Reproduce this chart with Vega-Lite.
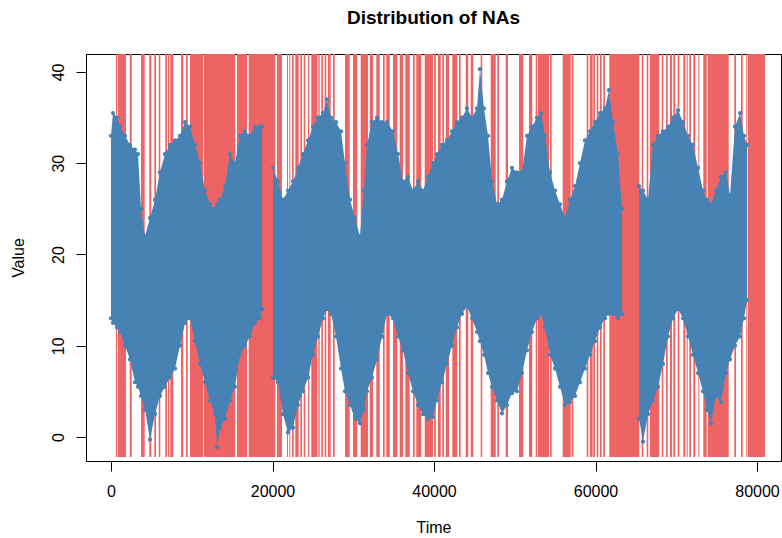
{
  "$schema": "https://vega.github.io/schema/vega-lite/v6.json",
  "width": 695,
  "height": 407,
  "autosize": {"type": "none"},
  "padding": {"left": 86, "top": 54, "right": 1, "bottom": 77},
  "background": "white",
  "title": {"text": "Distribution of NAs", "font": "Liberation Sans", "fontSize": 19, "fontWeight": "bold", "color": "black", "anchor": "middle", "frame": "group", "offset": 11, "baseline": "alphabetic"},
  "config": {
    "view": {"stroke": "black", "strokeWidth": 1},
    "axis": {"labelFont": "Liberation Sans", "titleFont": "Liberation Sans", "labelFontSize": 16, "titleFontSize": 16, "titleFontWeight": "normal", "labelColor": "black", "titleColor": "black", "tickColor": "black", "tickSize": 10, "domain": false, "grid": false, "labelFlush": false, "labelOverlap": false}
  },
  "datasets": {
    "nas": [
      {"t0": 619, "t1": 743}, {"t0": 830, "t1": 1858}, {"t0": 2316, "t1": 2563}, {"t0": 3715, "t1": 4173}, {"t0": 4743, "t1": 4991}, {"t0": 5362, "t1": 5573}, {"t0": 5907, "t1": 6105}, {"t0": 6724, "t1": 6935}, {"t0": 7059, "t1": 7220}, {"t0": 7344, "t1": 7715}, {"t0": 8669, "t1": 8954}, {"t0": 9288, "t1": 9498}, {"t0": 9783, "t1": 11393}, {"t0": 11480, "t1": 15393}, {"t0": 15604, "t1": 16842}, {"t0": 17053, "t1": 20347}, {"t0": 20557, "t1": 21176}, {"t0": 21796, "t1": 21920}, {"t0": 22081, "t1": 22205}, {"t0": 22415, "t1": 22626}, {"t0": 22824, "t1": 23245}, {"t0": 23443, "t1": 23654}, {"t0": 23864, "t1": 24062}, {"t0": 24396, "t1": 24557}, {"t0": 24805, "t1": 25560}, {"t0": 25680, "t1": 25846},
      {"t0": 26044, "t1": 26254}, {"t0": 26465, "t1": 26663}, {"t0": 26873, "t1": 27208}, {"t0": 27492, "t1": 27703}, {"t0": 28979, "t1": 29561}, {"t0": 29969, "t1": 30502}, {"t0": 30923, "t1": 31827}, {"t0": 32037, "t1": 32446}, {"t0": 32855, "t1": 33276}, {"t0": 33684, "t1": 33895}, {"t0": 34093, "t1": 34514}, {"t0": 34923, "t1": 35455}, {"t0": 35753, "t1": 36161}, {"t0": 36446, "t1": 36991}, {"t0": 37400, "t1": 37610}, {"t0": 37808, "t1": 38427}, {"t0": 38849, "t1": 39876},
      {"t0": 40000, "t1": 40211}, {"t0": 40496, "t1": 40830}, {"t0": 41030, "t1": 41240}, {"t0": 41450, "t1": 41859}, {"t0": 42267, "t1": 42887}, {"t0": 43097, "t1": 43307}, {"t0": 43926, "t1": 44249}, {"t0": 44545, "t1": 44867}, {"t0": 45783, "t1": 45981}, {"t0": 47022, "t1": 47641}, {"t0": 47839, "t1": 48050}, {"t0": 48879, "t1": 49164}, {"t0": 50527, "t1": 51059}, {"t0": 51765, "t1": 52174}, {"t0": 52595, "t1": 52793}, {"t0": 52880, "t1": 54240},
      {"t0": 54366, "t1": 54576}, {"t0": 55939, "t1": 56930}, {"t0": 57053, "t1": 57252}, {"t0": 58911, "t1": 59109}, {"t0": 59320, "t1": 59654}, {"t0": 59729, "t1": 59940}, {"t0": 60150, "t1": 60348}, {"t0": 60558, "t1": 60769}, {"t0": 60967, "t1": 61177}, {"t0": 61709, "t1": 65424}, {"t0": 65721, "t1": 65919}, {"t0": 66341, "t1": 66539}, {"t0": 66750, "t1": 67902}, {"t0": 68199, "t1": 68398},
      {"t0": 68731, "t1": 68942}, {"t0": 69226, "t1": 69474}, {"t0": 69634, "t1": 69882}, {"t0": 70178, "t1": 70377}, {"t0": 70873, "t1": 71121}, {"t0": 71294, "t1": 71418}, {"t0": 71616, "t1": 71827}, {"t0": 72112, "t1": 72360}, {"t0": 72731, "t1": 72855}, {"t0": 73350, "t1": 73771}, {"t0": 73895, "t1": 76496}, {"t0": 77188, "t1": 77398}, {"t0": 78019, "t1": 78229}, {"t0": 78638, "t1": 78724}, {"t0": 78848, "t1": 80990}
    ],
    "band": [
      {"seg": 1, "t": 0, "hi": 33, "lo": 13}, {"seg": 1, "t": 248, "hi": 35.5, "lo": 12.5}, {"seg": 1, "t": 743, "hi": 35, "lo": 12}, {"seg": 1, "t": 1115, "hi": 34, "lo": 11.5}, {"seg": 1, "t": 1734, "hi": 33, "lo": 10}, {"seg": 1, "t": 2353, "hi": 32, "lo": 8.5}, {"seg": 1, "t": 2972, "hi": 31.5, "lo": 6}, {"seg": 1, "t": 3344, "hi": 31, "lo": 5.5}, {"seg": 1, "t": 3715, "hi": 25, "lo": 4.5}, {"seg": 1, "t": 4211, "hi": 22, "lo": 3}, {"seg": 1, "t": 4830, "hi": 24, "lo": -0.3}, {"seg": 1, "t": 5449, "hi": 26, "lo": 2.5}, {"seg": 1, "t": 6068, "hi": 29, "lo": 4.5}, {"seg": 1, "t": 6687, "hi": 31, "lo": 5.5}, {"seg": 1, "t": 7307, "hi": 32, "lo": 6.5}, {"seg": 1, "t": 7926, "hi": 32.5, "lo": 7.5}, {"seg": 1, "t": 8545, "hi": 33, "lo": 10}, {"seg": 1, "t": 9164, "hi": 34.5, "lo": 12.5}, {"seg": 1, "t": 9783, "hi": 34, "lo": 13}, {"seg": 1, "t": 10403, "hi": 32, "lo": 10.5}, {"seg": 1, "t": 11022, "hi": 30, "lo": 8}, {"seg": 1, "t": 11641, "hi": 27, "lo": 6}, {"seg": 1, "t": 12260, "hi": 25.5, "lo": 4}, {"seg": 1, "t": 12879, "hi": 25, "lo": 2.5}, {"seg": 1, "t": 13127, "hi": 25.5, "lo": -1.1}, {"seg": 1, "t": 13499, "hi": 26, "lo": 1}, {"seg": 1, "t": 14118, "hi": 27.5, "lo": 2}, {"seg": 1, "t": 14737, "hi": 31, "lo": 4}, {"seg": 1, "t": 15356, "hi": 30, "lo": 5.5}, {"seg": 1, "t": 15975, "hi": 33, "lo": 9}, {"seg": 1, "t": 16595, "hi": 33.5, "lo": 10}, {"seg": 1, "t": 17214, "hi": 33, "lo": 11}, {"seg": 1, "t": 17833, "hi": 34, "lo": 12.5}, {"seg": 1, "t": 18452, "hi": 34, "lo": 13}, {"seg": 1, "t": 18700, "hi": 34, "lo": 14},
      {"seg": 2, "t": 20062, "hi": 29.5, "lo": 6.5}, {"seg": 2, "t": 20681, "hi": 28, "lo": 6}, {"seg": 2, "t": 21300, "hi": 26, "lo": 2.5}, {"seg": 2, "t": 21920, "hi": 27, "lo": 0.5}, {"seg": 2, "t": 22539, "hi": 28, "lo": 1}, {"seg": 2, "t": 23158, "hi": 29.5, "lo": 3.5}, {"seg": 2, "t": 23777, "hi": 31, "lo": 5}, {"seg": 2, "t": 24396, "hi": 32.5, "lo": 6.5}, {"seg": 2, "t": 25016, "hi": 34, "lo": 9}, {"seg": 2, "t": 25635, "hi": 35, "lo": 11}, {"seg": 2, "t": 26254, "hi": 35.5, "lo": 13}, {"seg": 2, "t": 26749, "hi": 37, "lo": 14}, {"seg": 2, "t": 27245, "hi": 35, "lo": 13.5}, {"seg": 2, "t": 27864, "hi": 34.5, "lo": 11}, {"seg": 2, "t": 28483, "hi": 33.5, "lo": 7.5}, {"seg": 2, "t": 28979, "hi": 30, "lo": 5}, {"seg": 2, "t": 29598, "hi": 26, "lo": 3.5}, {"seg": 2, "t": 30217, "hi": 24, "lo": 2}, {"seg": 2, "t": 30836, "hi": 22, "lo": 1.5}, {"seg": 2, "t": 31332, "hi": 27, "lo": 3}, {"seg": 2, "t": 31703, "hi": 32, "lo": 5}, {"seg": 2, "t": 32322, "hi": 34.5, "lo": 6.5}, {"seg": 2, "t": 32941, "hi": 35, "lo": 8.5}, {"seg": 2, "t": 33561, "hi": 34.5, "lo": 11}, {"seg": 2, "t": 34180, "hi": 34.5, "lo": 13.5}, {"seg": 2, "t": 34923, "hi": 33.5, "lo": 13}, {"seg": 2, "t": 35542, "hi": 31, "lo": 11}, {"seg": 2, "t": 36161, "hi": 28, "lo": 9.5}, {"seg": 2, "t": 36780, "hi": 28.5, "lo": 7}, {"seg": 2, "t": 37400, "hi": 27, "lo": 5}, {"seg": 2, "t": 38019, "hi": 28, "lo": 3.5}, {"seg": 2, "t": 38638, "hi": 27, "lo": 2.5}, {"seg": 2, "t": 39257, "hi": 28.5, "lo": 2}, {"seg": 2, "t": 39876, "hi": 30, "lo": 2.2}, {"seg": 2, "t": 40372, "hi": 31, "lo": 4}, {"seg": 2, "t": 40991, "hi": 32, "lo": 6}, {"seg": 2, "t": 41610, "hi": 32.5, "lo": 8}, {"seg": 2, "t": 42229, "hi": 33.5, "lo": 10}, {"seg": 2, "t": 42849, "hi": 34.5, "lo": 12}, {"seg": 2, "t": 43468, "hi": 35, "lo": 13.5}, {"seg": 2, "t": 44087, "hi": 36, "lo": 14.3}, {"seg": 2, "t": 44706, "hi": 35, "lo": 13}, {"seg": 2, "t": 45325, "hi": 36, "lo": 11.5}, {"seg": 2, "t": 45697, "hi": 40.3, "lo": 10.5}, {"seg": 2, "t": 46192, "hi": 36, "lo": 9}, {"seg": 2, "t": 46688, "hi": 33, "lo": 7}, {"seg": 2, "t": 47183, "hi": 28, "lo": 5.5}, {"seg": 2, "t": 47802, "hi": 25.5, "lo": 4}, {"seg": 2, "t": 48421, "hi": 26, "lo": 2.6}, {"seg": 2, "t": 49041, "hi": 28, "lo": 3.5}, {"seg": 2, "t": 49660, "hi": 29.5, "lo": 4.8}, {"seg": 2, "t": 50279, "hi": 29, "lo": 5}, {"seg": 2, "t": 50898, "hi": 29, "lo": 7}, {"seg": 2, "t": 51517, "hi": 33, "lo": 9.5}, {"seg": 2, "t": 52137, "hi": 34, "lo": 11.5}, {"seg": 2, "t": 52756, "hi": 35, "lo": 13}, {"seg": 2, "t": 53251, "hi": 35.5, "lo": 13.5}, {"seg": 2, "t": 53747, "hi": 33, "lo": 12}, {"seg": 2, "t": 54366, "hi": 29, "lo": 9}, {"seg": 2, "t": 54985, "hi": 27, "lo": 7.5}, {"seg": 2, "t": 55604, "hi": 25.5, "lo": 5.5}, {"seg": 2, "t": 56223, "hi": 24, "lo": 3.5}, {"seg": 2, "t": 56843, "hi": 26, "lo": 3.8}, {"seg": 2, "t": 57462, "hi": 27.5, "lo": 4.5}, {"seg": 2, "t": 58081, "hi": 30, "lo": 6}, {"seg": 2, "t": 58700, "hi": 32.5, "lo": 7.5}, {"seg": 2, "t": 59319, "hi": 33.5, "lo": 9}, {"seg": 2, "t": 59939, "hi": 34.5, "lo": 10.5}, {"seg": 2, "t": 60558, "hi": 35.5, "lo": 12}, {"seg": 2, "t": 61177, "hi": 36, "lo": 13}, {"seg": 2, "t": 61672, "hi": 38, "lo": 13.5}, {"seg": 2, "t": 62168, "hi": 34.5, "lo": 13.5}, {"seg": 2, "t": 62787, "hi": 31, "lo": 13}, {"seg": 2, "t": 63282, "hi": 25, "lo": 13.5},
      {"seg": 3, "t": 65388, "hi": 27.5, "lo": 2}, {"seg": 3, "t": 65883, "hi": 27, "lo": -0.5}, {"seg": 3, "t": 66502, "hi": 26, "lo": 2.5}, {"seg": 3, "t": 67121, "hi": 32, "lo": 4}, {"seg": 3, "t": 67740, "hi": 33, "lo": 5.5}, {"seg": 3, "t": 68360, "hi": 33.5, "lo": 8}, {"seg": 3, "t": 68979, "hi": 34, "lo": 11}, {"seg": 3, "t": 69598, "hi": 35, "lo": 13}, {"seg": 3, "t": 70217, "hi": 35.8, "lo": 14}, {"seg": 3, "t": 70836, "hi": 34.5, "lo": 13}, {"seg": 3, "t": 71456, "hi": 33, "lo": 11}, {"seg": 3, "t": 72075, "hi": 32, "lo": 9}, {"seg": 3, "t": 72694, "hi": 29.5, "lo": 7}, {"seg": 3, "t": 73313, "hi": 27, "lo": 5}, {"seg": 3, "t": 73809, "hi": 26, "lo": 3}, {"seg": 3, "t": 74304, "hi": 25.5, "lo": 1.5}, {"seg": 3, "t": 74923, "hi": 27, "lo": 4.5}, {"seg": 3, "t": 75542, "hi": 28.5, "lo": 3.8}, {"seg": 3, "t": 76162, "hi": 29, "lo": 7}, {"seg": 3, "t": 76657, "hi": 26.5, "lo": 8.5}, {"seg": 3, "t": 77276, "hi": 34, "lo": 10}, {"seg": 3, "t": 77895, "hi": 35.5, "lo": 11}, {"seg": 3, "t": 78391, "hi": 33, "lo": 13}, {"seg": 3, "t": 78762, "hi": 32, "lo": 15}
    ]
  },
  "layer": [
    {
      "data": {"name": "nas"},
      "mark": {"type": "rect", "color": "#EE6363"},
      "encoding": {
        "x": {"field": "t0", "type": "quantitative", "scale": {"domain": [-3096, 82972], "nice": false, "zero": false},
              "axis": {"values": [0, 20000, 40000, 60000, 80000], "format": "d", "title": "Time", "labelPadding": 12, "titlePadding": 20}},
        "x2": {"field": "t1"},
        "y": {"datum": -2.2, "type": "quantitative", "scale": {"domain": [-2.63, 41.97], "nice": false, "zero": false},
              "axis": {"values": [0, 10, 20, 30, 40], "title": "Value", "labelAngle": -90, "labelAlign": "center", "labelBaseline": "alphabetic", "labelPadding": 13, "titlePadding": 24}},
        "y2": {"datum": 41.97}
      }
    },
    {
      "data": {"name": "band"},
      "mark": {"type": "area", "color": "#4682B4", "opacity": 1},
      "encoding": {
        "x": {"field": "t", "type": "quantitative"},
        "y": {"field": "hi", "type": "quantitative"},
        "y2": {"field": "lo"},
        "detail": {"field": "seg"}
      }
    },
    {
      "data": {"name": "band"},
      "mark": {"type": "point", "filled": true, "shape": "circle", "color": "#4682B4", "size": 18, "opacity": 1},
      "encoding": {
        "x": {"field": "t", "type": "quantitative"},
        "y": {"field": "hi", "type": "quantitative"}
      }
    },
    {
      "data": {"name": "band"},
      "mark": {"type": "point", "filled": true, "shape": "circle", "color": "#4682B4", "size": 18, "opacity": 1},
      "encoding": {
        "x": {"field": "t", "type": "quantitative"},
        "y": {"field": "lo", "type": "quantitative"}
      }
    }
  ]
}
